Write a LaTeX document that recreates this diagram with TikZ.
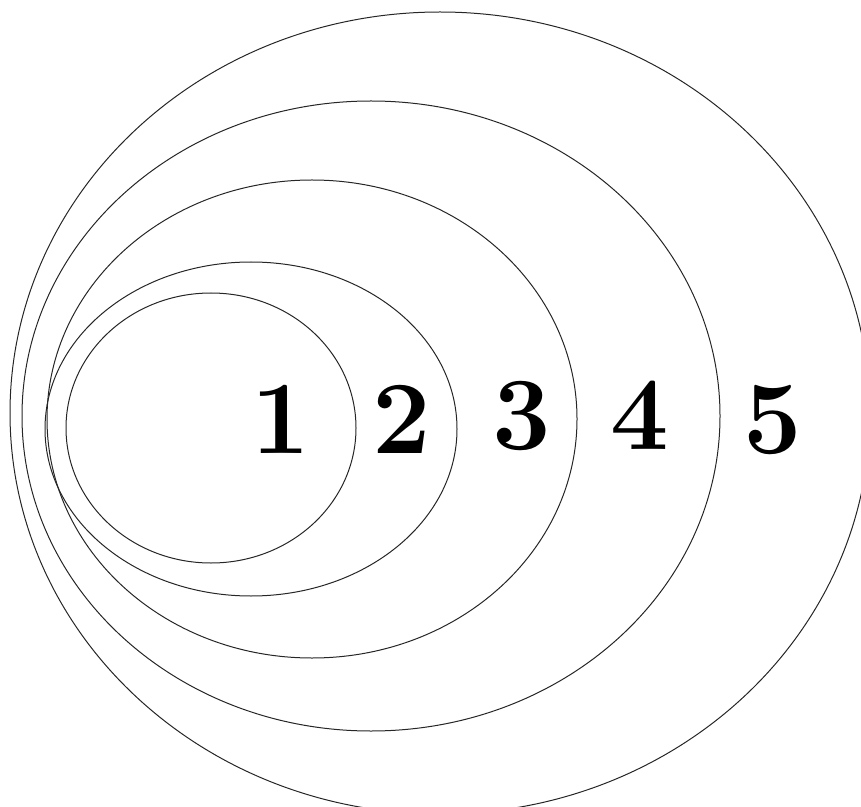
\documentclass[tikz,border=0pt]{standalone}
\begin{document}
\begin{tikzpicture}[x=0.5pt,y=-0.5pt,
  ring/.style={draw=black!85,line width=0.5pt},
  num/.style={font=\fontsize{52}{54}\selectfont\bfseries,anchor=base,inner sep=0pt}]
\useasboundingbox (0,0) rectangle (861,807);
\draw[ring] (440,413) ellipse [x radius=430, y radius=401];
\draw[ring] (371,416) ellipse [x radius=349, y radius=315];
\draw[ring] (312,419) ellipse [x radius=265, y radius=239];
\draw[ring] (251,429) ellipse [x radius=206, y radius=167];
\draw[ring] (211,428) ellipse [x radius=145, y radius=135];
\node[num] (n1) at (281,453) {1};
\node[num] (n2) at (402,453) {2};
\node[num] (n3) at (522,449) {3};
\node[num] (n4) at (640,449) {4};
\node[num] (n5) at (773,453) {5};
\end{tikzpicture}
\end{document}
